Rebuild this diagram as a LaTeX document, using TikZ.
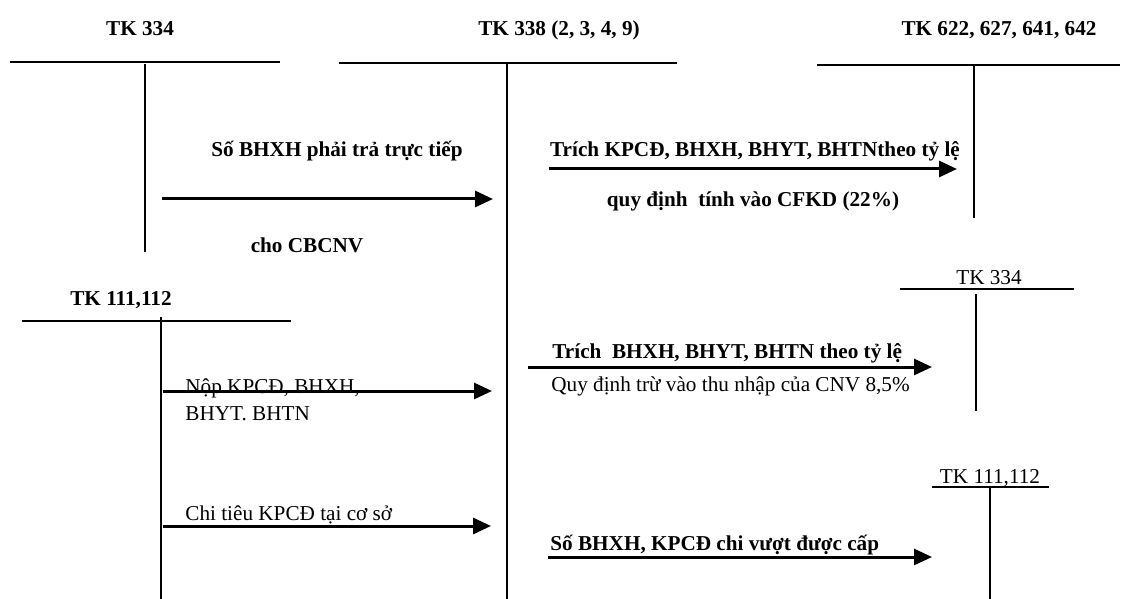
\documentclass[tikz,border=0pt]{standalone}
\usepackage{fontspec}
\setmainfont{Liberation Serif}
\usetikzlibrary{arrows.meta}
\newcommand{\fsz}{\fontsize{10.6}{12.7}\selectfont}

\begin{document}
\begin{tikzpicture}[x=0.5pt,y=-0.5pt,
  acc/.style={font=\fsz\bfseries,anchor=base,inner sep=0pt},
  accn/.style={font=\fsz,anchor=base,inner sep=0pt},
  lbl/.style={font=\fsz\bfseries,anchor=base,inner sep=0pt},
  lblw/.style={font=\fsz\bfseries,anchor=base west,inner sep=0pt},
  txt/.style={font=\fsz,anchor=base west,inner sep=0pt},
  tline/.style={line width=1pt},
  flow/.style={-{Triangle[length=9pt,width=8pt]},line width=1.5pt},
]
\useasboundingbox (0,0) rectangle (1131,599);

\node[acc] (tk334) at (140,36) {TK 334};
\node[acc] (tk338) at (559,36) {TK 338 (2, 3, 4, 9)};
\node[acc] (tk622) at (999,36) {TK 622, 627, 641, 642};
\node[acc] (tk111) at (121,305) {TK 111,112};
\node[accn] (tk334b) at (989,285) {TK 334};
\node[accn] (tk111b) at (990,483) {TK 111,112};

\draw[tline] (10,62) -- (280,62);
\draw[tline] (145,64) -- (145,252);
\draw[tline] (339,63) -- (677,63);
\draw[tline] (507,64) -- (507,599);
\draw[tline] (817,65) -- (1120,65);
\draw[tline] (974,65) -- (974,218);
\draw[tline] (22,321) -- (291,321);
\draw[tline] (161,317) -- (161,599);
\draw[tline] (900,289) -- (1074,289);
\draw[tline] (976,294) -- (976,411);
\draw[tline] (932,487) -- (1049,487);
\draw[tline] (990,488) -- (990,599);

\coordinate (s1) at (162,199);
\coordinate (e1) at (493,199);
\coordinate (s2) at (549,169);
\coordinate (e2) at (957,169);
\coordinate (s3) at (163,391);
\coordinate (e3) at (492,391);
\coordinate (s4) at (528,367);
\coordinate (e4) at (932,367);
\coordinate (s5) at (163,526);
\coordinate (e5) at (491,526);
\coordinate (s6) at (548,557);
\coordinate (e6) at (932,557);

\draw[flow] (s1) -- (e1);
\draw[flow] (s2) -- (e2);
\draw[flow] (s3) -- (e3);
\draw[flow] (s4) -- (e4);
\draw[flow] (s5) -- (e5);
\draw[flow] (s6) -- (e6);

\node[lbl] (bhxh) at (337,157) {Số BHXH phải trả trực tiếp};
\node[lbl] (cbcnv) at (307,252) {cho CBCNV};
\node[lbl] (trich) at (755,156) {Trích KPCĐ, BHXH, BHYT, BHTNtheo tỷ lệ};
\node[lbl] (cfkd) at (753,206) {quy định~ tính vào CFKD (22\%)};
\node[txt] (nop) at (185,393) {Nộp KPCĐ, BHXH,};
\node[txt] (nop2) at (185,420) {BHYT. BHTN};
\node[lblw] (trich2) at (552,358) {Trích~ BHXH, BHYT, BHTN theo tỷ lệ};
\node[txt] (quydinh) at (551,391) {Quy định trừ vào thu nhập của CNV 8,5\%};
\node[txt] (chitieu) at (185,520) {Chi tiêu KPCĐ tại cơ sở};
\node[lblw] (vuot) at (550,550) {Số BHXH, KPCĐ chi vượt được cấp};
\end{tikzpicture}
\end{document}
